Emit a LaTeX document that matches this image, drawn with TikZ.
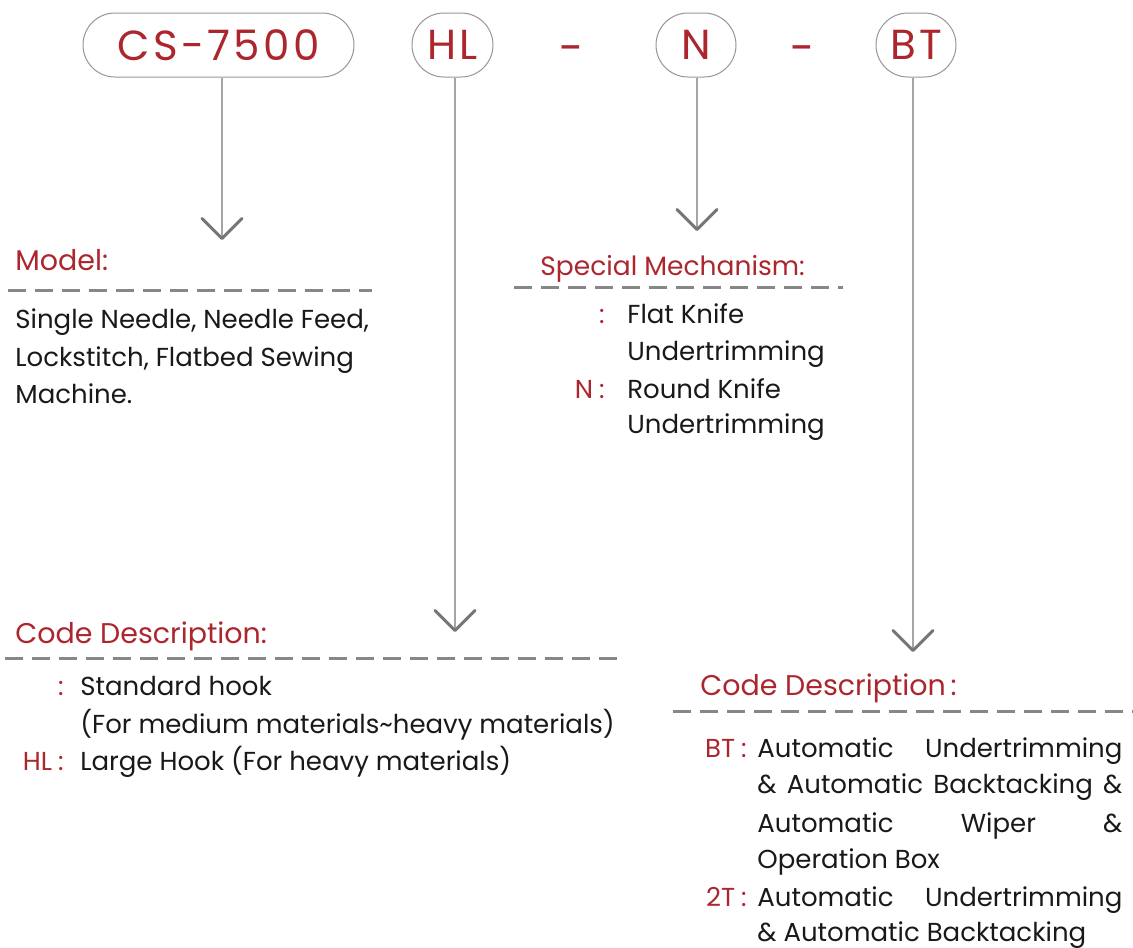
\documentclass[tikz,border=0pt]{standalone}
\usepackage{fontspec}
\setmainfont{Poppins}
\usetikzlibrary{arrows.meta, positioning}
\definecolor{codered}{RGB}{172,38,46}
\definecolor{inkblack}{RGB}{25,25,25}
\definecolor{pillgray}{RGB}{150,150,150}
\definecolor{linegray}{RGB}{165,165,165}
\definecolor{chevgray}{RGB}{118,118,118}
\definecolor{rulegray}{RGB}{135,135,135}

\begin{document}
\begin{tikzpicture}[x=1pt, y=1pt, thick,
    pill/.style={draw=pillgray, line width=1pt, rounded corners=32pt, minimum height=64pt, inner sep=0pt, text=codered, font=\fontsize{42}{50}\selectfont\addfontfeature{LetterSpace=8}},
    sepdash/.style={inner sep=0pt, text=codered, font=\fontsize{44}{50}\selectfont},
    feed/.style={draw=linegray, line width=1.5pt, -{Straight Barb[round, length=20pt, width=40pt, line width=3pt, color=chevgray]}},
    rule/.style={draw=rulegray, line width=3pt, dash pattern=on 18pt off 9pt},
    body/.style={anchor=base west, inner sep=0pt, text=inkblack, font=\fontsize{26}{30}\selectfont},
    head/.style={anchor=base west, inner sep=0pt, text=codered, font=\fontsize{28.5}{30}\selectfont},
    code/.style={anchor=base east, inner sep=0pt, text=codered, font=\fontsize{26}{30}\selectfont}]
    \useasboundingbox (0,0) rectangle (1133,-948);

    % model code on top
    \node [pill, minimum width=271pt] (cs) at (218.5,-45) {CS-7500};
    \node [pill, minimum width=81pt] (hl) at (452.5,-45) {HL};
    \node [sepdash] (sep1) at (572,-55) {-};
    \node [pill, minimum width=80pt] (kn) at (696,-45) {N};
    \node [sepdash] (sep2) at (803,-55) {-};
    \node [pill, minimum width=80pt] (bt) at (916,-45) {BT};

    \coordinate (mtip) at (222,-240);
    \coordinate (htip) at (455,-632);
    \coordinate (ntip) at (697,-231);
    \coordinate (btip) at (913,-652);
    \draw [feed] (cs.south -| mtip) -- (mtip);
    \draw [feed] (hl.south -| htip) -- (htip);
    \draw [feed] (kn.south -| ntip) -- (ntip);
    \draw [feed] (bt.south -| btip) -- (btip);

    % model
    \node [head] (mhead) at (15,-270) {Model:};
    \draw [rule] (8,-290) -- (372,-290);
    \node [body] (m1) at (15,-328) {Single Needle, Needle Feed,};
    \node [body] (m2) at (15,-366) {Lockstitch, Flatbed Sewing};
    \node [body] (m3) at (15,-403) {Machine.};

    % special mechanism
    \node [head, font=\fontsize{26.5}{30}\selectfont] (shead) at (540,-275) {Special Mechanism:};
    \draw [rule] (514,-287) -- (843,-287);
    \node [body] (s1) at (627,-323) {Flat Knife};
    \node [body] (s2) at (627,-360) {Undertrimming};
    \node [body] (s3) at (627,-398) {Round Knife};
    \node [body] (s4) at (627,-433) {Undertrimming};
    \node [code, left=22pt of s1.base west, anchor=base east] (s1c) {:};
    \node [code, left=22pt of s3.base west, anchor=base east] (s3c) {N\kern6pt:};

    % hook
    \node [head] (hhead) at (15,-643) {Code Description:};
    \draw [rule] (5,-658) -- (625,-658);
    \node [body] (h1) at (80,-695) {Standard hook};
    \node [body] (h2) at (80,-733) {(For medium materials\textasciitilde heavy materials)};
    \node [body] (h3) at (80,-770) {Large Hook (For heavy materials)};
    \node [code, left=16pt of h1.base west, anchor=base east] (h1c) {:};
    \node [code, left=16pt of h3.base west, anchor=base east] (h3c) {HL\kern6pt:};

    % trimming
    \node [head] (thead) at (700,-695) {Code Description\,:};
    \draw [rule] (673,-711) -- (1140,-711);
    \node [body] (t1) at (757,-757) {\hbox to 365pt{Automatic\hfill Undertrimming}};
    \node [body] (t2) at (757,-793) {\hbox to 365pt{\&\hfill Automatic\hfill Backtacking\hfill \&}};
    \node [body] (t3) at (757,-832) {\hbox to 365pt{Automatic\hfill Wiper\hfill \&}};
    \node [body] (t4) at (757,-868) {Operation Box};
    \node [body] (t5) at (757,-906) {\hbox to 365pt{Automatic\hfill Undertrimming}};
    \node [body] (t6) at (757,-941) {\& Automatic Backtacking};
    \node [code, left=10pt of t1.base west, anchor=base east] (t1c) {BT\kern6pt:};
    \node [code, left=10pt of t5.base west, anchor=base east] (t5c) {2T\kern6pt:};
\end{tikzpicture}
\end{document}
